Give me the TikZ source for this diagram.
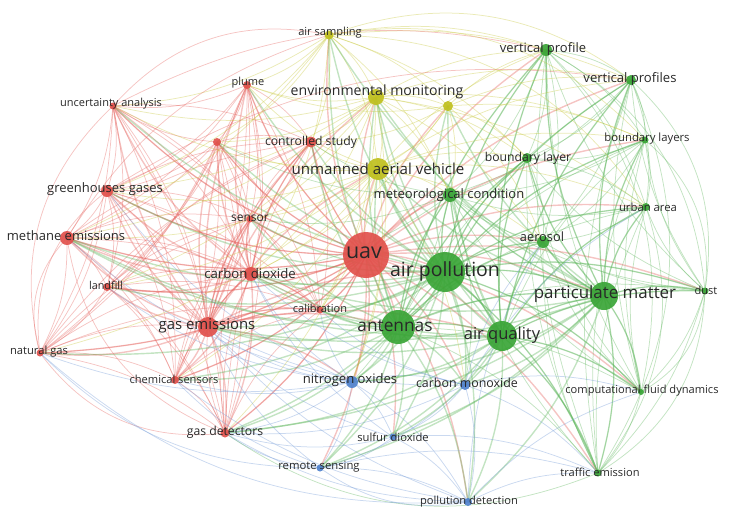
\documentclass[tikz,border=0pt]{standalone}
\usepackage{fontspec}
\setmainfont{Open Sans}
\definecolor{cR}{RGB}{222,62,56}
\definecolor{cG}{RGB}{58,165,55}
\definecolor{cB}{RGB}{80,130,205}
\definecolor{cY}{RGB}{192,192,30}
\definecolor{txt}{RGB}{40,40,40}
\newcommand\fullgraph[2]{\foreach \a [count=\i] in {#2} {\foreach \b [count=\j] in {#2} {\ifnum\j>\i \draw[#1] (\a) to[bend left=14] (\b);\fi}}}
\newcommand\hubedges[3]{\foreach \b in {#3} {\draw[#1] (#2) to[bend left=14] (\b);}}
\newcommand\arcedges[3]{\foreach \a/\b in {#3} {\draw[#1] (\a) to[bend left=#2] (\b);}}
\newcommand\fs[1]{\fontsize{#1}{#1}\selectfont}
\tikzset{
  eR/.style={draw=cR!80!white, line width=0.75pt, opacity=0.38},
  eG/.style={draw=cG!80!white, line width=0.75pt, opacity=0.38},
  eB/.style={draw=cB!80!white, line width=0.75pt, opacity=0.38},
  eY/.style={draw=cY!85!white, line width=0.75pt, opacity=0.38},
  eRt/.style={eR, line width=1.4pt},
  eGt/.style={eG, line width=1.4pt},
  dot/.style={circle, inner sep=0pt, minimum size=#1, fill opacity=0.92},
  nR/.style={fill=cR!90!white},
  nG/.style={fill=cG},
  nB/.style={fill=cB},
  nY/.style={fill=cY},
  lab/.style={text=txt, inner sep=0pt, anchor=center}
}
\begin{document}
\begin{tikzpicture}[x=1pt,y=-1pt]
\useasboundingbox (0,0) rectangle (730,520);
% ---------- positions ----------
\coordinate (uav) at (366,255);
\coordinate (pl) at (247,85);
\coordinate (rx) at (217,142);
\coordinate (ua) at (113,106);
\coordinate (gg) at (107,191);
\coordinate (me) at (67,238);
\coordinate (lf) at (107,287);
\coordinate (ng) at (40,353);
\coordinate (cs) at (175,380);
\coordinate (gd) at (225,433);
\coordinate (ge) at (208,327);
\coordinate (cd) at (251,274);
\coordinate (se) at (250,219);
\coordinate (ct) at (311,142);
\coordinate (ca) at (320,310);
\coordinate (as) at (329,35);
\coordinate (em) at (376,97);
\coordinate (yx) at (448,106);
\coordinate (uv) at (378,169);
\coordinate (ap) at (445,272);
\coordinate (an) at (398,327);
\coordinate (aq) at (502,336);
\coordinate (pm) at (604,296);
\coordinate (du) at (705,291);
\coordinate (cf) at (641,392);
\coordinate (te) at (598,473);
\coordinate (vp) at (546,50);
\coordinate (vs) at (631,80);
\coordinate (bs) at (645,140);
\coordinate (bl) at (527,158);
\coordinate (ur) at (646,207);
\coordinate (ae) at (543,242);
\coordinate (mc) at (450,195);
\coordinate (no) at (352,382);
\coordinate (cm) at (465,385);
\coordinate (sd) at (393,437);
\coordinate (rs) at (320,468);
\coordinate (pd) at (468,502);
% ---------- edges ----------
\fullgraph{eR}{uav,pl,rx,ua,gg,me,lf,ng,cs,gd,ge,cd,se,ct,ca}
\fullgraph{eG}{ap,an,aq,pm,du,cf,te,vp,vs,bs,bl,ur,ae,mc}
\fullgraph{eB}{no,cm,sd,rs,pd}
\fullgraph{eY}{as,em,yx,uv}
\hubedges{eRt}{uav}{pl,rx,ua,gg,me,lf,ng,cs,gd,ge,cd,se,ct,ca,as,em,yx,uv,ap,an,aq,pm,du,cf,te,vp,vs,bs,bl,ur,ae,mc,no,cm,sd,rs,pd}
\hubedges{eRt}{ge}{pl,rx,ua,gg,me,lf,ng,cs,gd,cd,se,ct,ca,an,ap,aq,no,uv,em}
\hubedges{eRt}{cd}{pl,rx,ua,gg,me,lf,se,ct,ca,cs,gd}
\hubedges{eGt}{ap}{an,aq,pm,du,cf,te,vp,vs,bs,bl,ur,ae,mc,ge,cd,gd,cs,ct,se,ca,me,gg,ng,lf,pl,rx,ua,uv,em,as,yx,no,cm,sd,rs,pd}
\hubedges{eGt}{an}{aq,pm,mc,ae,bl,vp,ge,cd,gd,cs,ca,se,ct,me,uv,em,no,cm,sd,rs,pd,as}
\hubedges{eGt}{aq}{pm,mc,ae,bl,vp,vs,ur,du,cf,te,ge,cd,gd,ca,uv,em,yx,no,cm,sd,rs,pd,me}
\hubedges{eGt}{pm}{mc,ae,bl,vp,vs,bs,ur,du,cf,te,uv,em,yx,as,no,cm,sd,pd,ge,cd,gd,rs}
\hubedges{eY}{uv}{pl,rx,ua,gg,me,lf,ng,cs,gd,cd,se,ct,ca,mc,bl,ae,vp,vs,bs,ur,no,cm}
\hubedges{eY}{em}{pl,rx,ua,gg,me,lf,cd,se,ct,ca,mc,bl,ae,vp,vs,bs,ur,no}
\hubedges{eY}{as}{pl,ct,ua,gg,me,rx,cd,mc,vp,vs,bl}
\hubedges{eY}{yx}{ct,pl,cd,mc,bl,vp,vs,ae,bs}
\hubedges{eG}{mc}{ct,cd,no,cm,se,rx}
\hubedges{eB}{no}{ge,gd,cd,cs,ca,me,gg,lf,ng}
\hubedges{eB}{cm}{ge,cd,gd,te,cf,ur,ae,ca}
\hubedges{eB}{rs}{gd,ge,cs,te}
\hubedges{eB}{sd}{gd,ge,cd,te}
\hubedges{eB}{pd}{gd,ge,ae,te,cf,cs}
\arcedges{eR}{20}{ua/vp,gg/vs,me/as}
\arcedges{eR}{30}{ua/as,ng/ua,gd/me,gd/ng,ng/me,ng/gg}
\arcedges{eG}{28}{vp/du,vs/te,vp/cf,du/te,du/cf,vs/du,te/gd,bs/du,ur/te}
\arcedges{eB}{22}{pd/ng,rs/ng,pd/rs}
\arcedges{eY}{28}{as/vs,as/bs,as/ur}
% ---------- nodes ----------
\node[dot=46pt,nR] (uav-n) at (uav) {};
\node[dot=8pt,nR] (pl-n) at (pl) {};
\node[dot=8pt,nR] (rx-n) at (rx) {};
\node[dot=7pt,nR] (ua-n) at (ua) {};
\node[dot=12pt,nR] (gg-n) at (gg) {};
\node[dot=14pt,nR] (me-n) at (me) {};
\node[dot=8pt,nR] (lf-n) at (lf) {};
\node[dot=7pt,nR] (ng-n) at (ng) {};
\node[dot=8pt,nR] (cs-n) at (cs) {};
\node[dot=9pt,nR] (gd-n) at (gd) {};
\node[dot=20pt,nR] (ge-n) at (ge) {};
\node[dot=14pt,nR] (cd-n) at (cd) {};
\node[dot=7pt,nR] (se-n) at (se) {};
\node[dot=11pt,nR] (ct-n) at (ct) {};
\node[dot=7pt,nR] (ca-n) at (ca) {};
\node[dot=9pt,nY] (as-n) at (as) {};
\node[dot=16pt,nY] (em-n) at (em) {};
\node[dot=10pt,nY] (yx-n) at (yx) {};
\node[dot=22pt,nY] (uv-n) at (uv) {};
\node[dot=40pt,nG] (ap-n) at (ap) {};
\node[dot=34pt,nG] (an-n) at (an) {};
\node[dot=30pt,nG] (aq-n) at (aq) {};
\node[dot=28pt,nG] (pm-n) at (pm) {};
\node[dot=7pt,nG] (du-n) at (du) {};
\node[dot=6pt,nG] (cf-n) at (cf) {};
\node[dot=7pt,nG] (te-n) at (te) {};
\node[dot=12pt,nG] (vp-n) at (vp) {};
\node[dot=10pt,nG] (vs-n) at (vs) {};
\node[dot=7pt,nG] (bs-n) at (bs) {};
\node[dot=10pt,nG] (bl-n) at (bl) {};
\node[dot=8pt,nG] (ur-n) at (ur) {};
\node[dot=12pt,nG] (ae-n) at (ae) {};
\node[dot=14pt,nG] (mc-n) at (mc) {};
\node[dot=12pt,nB] (no-n) at (no) {};
\node[dot=10pt,nB] (cm-n) at (cm) {};
\node[dot=7pt,nB] (sd-n) at (sd) {};
\node[dot=7pt,nB] (rs-n) at (rs) {};
\node[dot=8pt,nB] (pd-n) at (pd) {};
% ---------- labels ----------
\node[lab,font=\fs{21.5}] (uav-l) at (364,253) {uav};
\node[lab,font=\fs{11}] (pl-l) at (248,83) {plume};
\node[lab,font=\fs{11}] (ua-l) at (111,104) {uncertainty analysis};
\node[lab,font=\fs{13}] (gg-l) at (105,189) {greenhouses gases};
\node[lab,font=\fs{13}] (me-l) at (66,236) {methane emissions};
\node[lab,font=\fs{10.8}] (lf-l) at (106,285) {landfill};
\node[lab,font=\fs{11.2}] (ng-l) at (39,352) {natural gas};
\node[lab,font=\fs{11.1}] (cs-l) at (174,379) {chemical sensors};
\node[lab,font=\fs{12.2}] (gd-l) at (225,432) {gas detectors};
\node[lab,font=\fs{14.9}] (ge-l) at (207,326) {gas emissions};
\node[lab,font=\fs{13.2}] (cd-l) at (250,274) {carbon dioxide};
\node[lab,font=\fs{12}] (se-l) at (250,218) {sensor};
\node[lab,font=\fs{12.2}] (ct-l) at (311,142) {controlled study};
\node[lab,font=\fs{11}] (ca-l) at (320,308) {calibration};
\node[lab,font=\fs{11.1}] (as-l) at (330,33) {air sampling};
\node[lab,font=\fs{14.1}] (em-l) at (377,92) {environmental monitoring};
\node[lab,font=\fs{15.1}] (uv-l) at (378,169) {unmanned aerial vehicle};
\node[lab,font=\fs{19.5}] (ap-l) at (445,271) {air pollution};
\node[lab,font=\fs{17.3}] (an-l) at (395,326) {antennas};
\node[lab,font=\fs{16.5}] (aq-l) at (502,335) {air quality};
\node[lab,font=\fs{16.9}] (pm-l) at (605,294) {particulate matter};
\node[lab,font=\fs{11}] (du-l) at (706,290) {dust};
\node[lab,font=\fs{11.1}] (cf-l) at (642,391) {computational fluid dynamics};
\node[lab,font=\fs{11.1}] (te-l) at (600,472) {traffic emission};
\node[lab,font=\fs{13}] (vp-l) at (543,49) {vertical profile};
\node[lab,font=\fs{13.1}] (vs-l) at (630,79) {vertical profiles};
\node[lab,font=\fs{11.3}] (bs-l) at (647,139) {boundary layers};
\node[lab,font=\fs{12.2}] (bl-l) at (528,158) {boundary layer};
\node[lab,font=\fs{11.3}] (ur-l) at (648,207) {urban area};
\node[lab,font=\fs{12.8}] (ae-l) at (542,237) {aerosol};
\node[lab,font=\fs{13}] (mc-l) at (449,195) {meteorological condition};
\node[lab,font=\fs{13.1}] (no-l) at (350,380) {nitrogen oxides};
\node[lab,font=\fs{12.4}] (cm-l) at (467,383) {carbon monoxide};
\node[lab,font=\fs{11.2}] (sd-l) at (393,437) {sulfur dioxide};
\node[lab,font=\fs{11.3}] (rs-l) at (319,467) {remote sensing};
\node[lab,font=\fs{11.1}] (pd-l) at (469,502) {pollution detection};
\end{tikzpicture}
\end{document}
